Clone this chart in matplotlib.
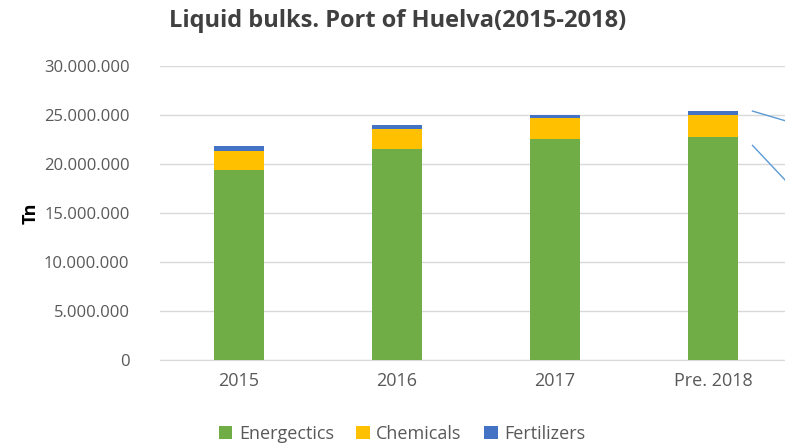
import matplotlib
matplotlib.use("Agg")
import matplotlib.pyplot as plt
from matplotlib.ticker import FuncFormatter
import numpy as np

categories = ["2015", "2016", "2017", "Pre. 2018"]
energetics = [19.4e6, 21.5e6, 22.5e6, 22.8e6]
chemicals = [1.95e6, 2.1e6, 2.15e6, 2.2e6]
fertilizers = [0.45e6, 0.35e6, 0.3e6, 0.37e6]
series_names = ["Energectics", "Chemicals", "Fertilizers"]
colors = ["#70AD47", "#FFC000", "#4472C4"]

plt.rcParams['font.family'] = ['Open Sans', 'DejaVu Sans']

fig = plt.figure(figsize=(7.85, 4.45), dpi=100)
ax = fig.add_axes([160/785, 1-360/445, 632/785, (360-66)/445])

x = np.arange(len(categories))
bottom = np.zeros(len(categories))
handles = []
for vals, name, c in zip([energetics, chemicals, fertilizers], series_names, colors):
    b = ax.bar(x, vals, width=0.32, bottom=bottom, color=c, label=name, zorder=3)
    handles.append(b)
    bottom = bottom + np.array(vals)

ax.set_xlim(-0.5, len(categories) - 0.5)
ax.set_ylim(0, 30e6)
ax.set_yticks(np.arange(0, 30.1e6, 5e6))
ax.yaxis.set_major_formatter(FuncFormatter(lambda v, p: f"{int(v):,}".replace(",", ".")))
ax.set_xticks(x)
ax.set_xticklabels(categories)
ax.grid(axis='y', color='#D9D9D9', linewidth=1, zorder=0)
for s in ['top', 'right', 'left']:
    ax.spines[s].set_visible(False)
ax.spines['bottom'].set_color('#D9D9D9')
ax.tick_params(axis='both', length=0, colors='#595959')
ax.tick_params(axis='x', pad=9, labelsize=13)
ax.tick_params(axis='y', pad=22, labelsize=12)

ax.set_ylabel("Tn", fontsize=13, fontweight='bold', color='black')
ax.yaxis.set_label_coords((40 - 160) / 632, 0.5)
fig.text(398/785, 1-21/445, "Liquid bulks. Port of Huelva(2015-2018)", ha='center', va='center',
         fontsize=17, fontweight='bold', color='#404040')

# cut-off leader lines at right edge
ax.plot([3.25, 3.46], [25.4e6, 24.4e6], color='#5B9BD5', linewidth=1, clip_on=False, zorder=4)
ax.plot([3.25, 3.46], [21.9e6, 18.3e6], color='#5B9BD5', linewidth=1, clip_on=False, zorder=4)

leg = fig.legend(handles=handles, labels=series_names, loc='center', bbox_to_anchor=(402/785, 1-434/445),
                 ncol=3, frameon=False, fontsize=13, handlelength=0.75, handleheight=0.75,
                 handletextpad=0.35, columnspacing=1.25)
for t in leg.get_texts():
    t.set_color('#595959')

fig.savefig("out.png", dpi=100)
